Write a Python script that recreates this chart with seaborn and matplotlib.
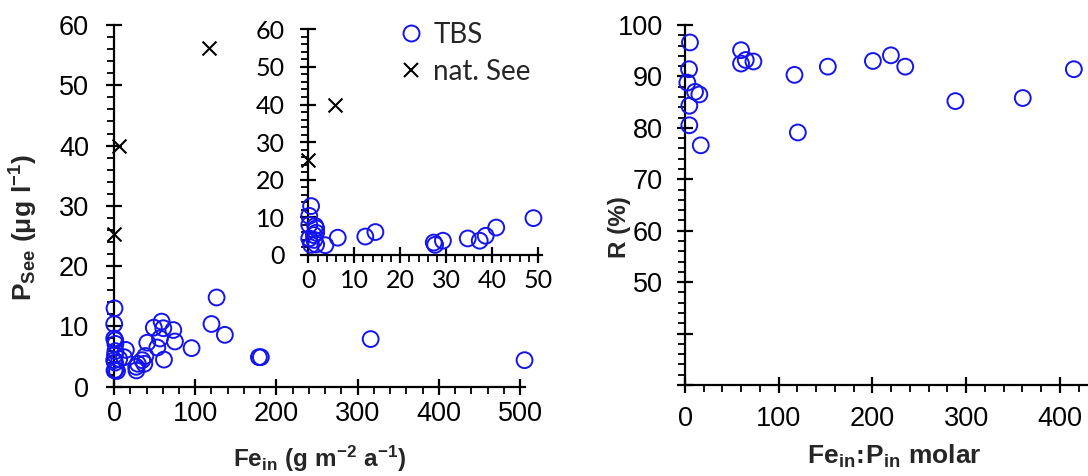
import numpy as np
import pandas as pd
import matplotlib
matplotlib.use("Agg")
import matplotlib.pyplot as plt
from matplotlib.lines import Line2D
from matplotlib.ticker import MultipleLocator, FixedLocator, FixedFormatter
import seaborn as sns

# ---------------- data ----------------
tbs_fe = [0.6, 0.2, 0.2, 1.5, 1.7, 1.7, 1.2, 0.2, 1.3, 0.6, 1.7, 3.7, 6.4,
          12.4, 14.6, 27.3, 27.6, 29.3, 34.7, 37.3, 38.6, 40.9, 49.0,
          53.3, 56.6, 58.6, 60.7, 61.5, 73.0, 75.0, 95.5, 120.0, 126.3,
          136.5, 178.4, 180.8, 316.0, 505.5]
tbs_p = [13.0, 10.4, 8.0, 7.7, 7.1, 5.9, 5.3, 4.4, 4.0, 2.7, 2.8, 2.6, 4.6,
         4.9, 6.1, 3.3, 2.7, 3.8, 4.4, 3.8, 5.1, 7.3, 9.8,
         6.5, 8.0, 10.8, 9.7, 4.5, 9.4, 7.5, 6.4, 10.4, 14.8,
         8.6, 4.9, 4.9, 7.9, 4.4]
see_fe = [0.0, 5.8, 117.2]
see_p = [25.3, 40.0, 56.2]

ratio_fep = [5.3, 4.3, 2.5, 10.7, 15.3, 4.6, 4.6, 16.8, 59.8, 59.8, 64.8, 73.0,
             116.8, 120.4, 152.4, 200.5, 219.7, 235.0, 288.5, 360.4, 414.9]
removal_r = [96.6, 91.4, 88.8, 87.0, 86.5, 84.3, 80.5, 76.6, 95.1, 92.5, 93.2, 92.9,
             90.3, 79.1, 91.9, 93.0, 94.1, 91.9, 85.2, 85.8, 91.4]

tbs_df = pd.DataFrame({"Fe": tbs_fe, "P": tbs_p})
see_df = pd.DataFrame({"Fe": see_fe, "P": see_p})
r_df = pd.DataFrame({"ratio": ratio_fep, "R": removal_r})

# ---------------- style ----------------
sns.set_theme(style="white")
plt.rcParams["font.family"] = ["Liberation Sans", "DejaVu Sans"]
plt.rcParams["mathtext.fontset"] = "custom"
plt.rcParams["mathtext.rm"] = "Liberation Sans:bold"
plt.rcParams["mathtext.it"] = "Liberation Sans:bold"
plt.rcParams["mathtext.bf"] = "Liberation Sans:bold"
plt.rcParams["mathtext.sf"] = "Liberation Sans:bold"

BLUE = "#1414F0"
TICK_FS = 19.5
INSET_FS = 18
LABEL_FS = 17.5

fig = plt.figure(figsize=(10.88, 4.76), dpi=100)
ax1 = fig.add_axes([0.1048, 0.1876, 0.3777, 0.7599])
ax_in = fig.add_axes([0.2834, 0.4643, 0.2145, 0.4742])
ax2 = fig.add_axes([0.6296, 0.1912, 0.3704, 0.7563])


def style_axis(ax, fs, xpad, ypad, family=None):
    for s in ["top", "right"]:
        ax.spines[s].set_visible(False)
    for s in ["left", "bottom"]:
        ax.spines[s].set_linewidth(1.6)
        ax.spines[s].set_color("black")
    ax.tick_params(which="major", direction="inout", length=12, width=1.6,
                   labelsize=fs, colors="black")
    ax.tick_params(which="minor", direction="out", length=5, width=1.3, colors="black")
    ax.tick_params(axis="x", which="major", pad=xpad)
    ax.tick_params(axis="y", which="major", pad=ypad)
    ax.tick_params(axis="both", which="both", bottom=True, left=True)
    if family:
        for lab in ax.get_xticklabels() + ax.get_yticklabels():
            lab.set_family(family)
    ax.set_facecolor("none")


circle_kw = dict(marker="o", s=130, facecolors="none", edgecolor=BLUE,
                 linewidth=1.4, clip_on=False, zorder=5)
cross_kw = dict(marker="x", s=100, color="black", linewidth=1.5, clip_on=False, zorder=5)

# ---- left main axes ----
sns.scatterplot(data=tbs_df, x="Fe", y="P", ax=ax1, **circle_kw)
sns.scatterplot(data=see_df, x="Fe", y="P", ax=ax1, **cross_kw)
ax1.set_xlim(0, 506)
ax1.set_ylim(0, 60)
ax1.xaxis.set_major_locator(MultipleLocator(100))
ax1.xaxis.set_minor_locator(MultipleLocator(20))
ax1.yaxis.set_major_locator(MultipleLocator(10))
ax1.yaxis.set_minor_locator(MultipleLocator(2))
style_axis(ax1, TICK_FS, xpad=4, ypad=12)
ax1.set_xlabel(r"$\mathbf{Fe_{in}\ (g\ m^{-2}\ a^{-1})}$", fontsize=LABEL_FS)
ax1.set_ylabel(r"$\mathbf{P_{See}\ (\mu g\ l^{-1})}$", fontsize=19)
ax1.xaxis.set_label_coords(0.5, -0.158)
ax1.yaxis.set_label_coords(-0.18, 0.44)

# ---- inset ----
sns.scatterplot(data=tbs_df[tbs_df["Fe"] <= 50], x="Fe", y="P", ax=ax_in, **circle_kw)
sns.scatterplot(data=see_df[see_df["Fe"] <= 50], x="Fe", y="P", ax=ax_in, **cross_kw)
ax_in.set_xlim(0, 50.8)
ax_in.set_ylim(0, 60)
ax_in.xaxis.set_major_locator(MultipleLocator(10))
ax_in.xaxis.set_minor_locator(MultipleLocator(2))
ax_in.yaxis.set_major_locator(MultipleLocator(10))
ax_in.yaxis.set_minor_locator(MultipleLocator(2))
style_axis(ax_in, INSET_FS, xpad=4, ypad=11, family=["Lato", "DejaVu Sans"])
ax_in.set_xlabel("")
ax_in.set_ylabel("")

# ---- right axes ----
sns.scatterplot(data=r_df, x="ratio", y="R", ax=ax2, **circle_kw)
ax2.set_xlim(0, 430)
ax2.set_ylim(30, 100)
ax2.xaxis.set_major_locator(MultipleLocator(100))
ax2.xaxis.set_minor_locator(MultipleLocator(20))
yt = [30, 40, 50, 60, 70, 80, 90, 100]
ax2.yaxis.set_major_locator(FixedLocator(yt))
ax2.yaxis.set_major_formatter(FixedFormatter(["", "", "50", "60", "70", "80", "90", "100"]))
ax2.yaxis.set_minor_locator(MultipleLocator(2))
style_axis(ax2, TICK_FS, xpad=9, ypad=10)
ax2.set_xlabel(r"$\mathbf{Fe_{in}\!:\!P_{in}\ molar}$", fontsize=19)
ax2.set_ylabel("R (%)", fontsize=LABEL_FS, fontweight="bold")
ax2.xaxis.set_label_coords(0.519, -0.16)
ax2.yaxis.set_label_coords(-0.135, 0.44)

for ax in (ax1, ax_in, ax2):
    leg = ax.get_legend()
    if leg is not None:
        leg.remove()

# ---- legend ----
handles = [
    Line2D([], [], marker="o", linestyle="none", markersize=11.5, markerfacecolor="none",
           markeredgecolor=BLUE, markeredgewidth=1.4, label="TBS"),
    Line2D([], [], marker="x", linestyle="none", markersize=10, color="black",
           markeredgewidth=1.5, label="nat. See"),
]
fig.legend(handles=handles, loc="upper left", bbox_to_anchor=(0.346, 0.995),
           frameon=False, prop={"family": ["Lato", "DejaVu Sans"], "size": 20},
           handletextpad=0.25, labelspacing=0.4, handlelength=1.1, borderpad=0.2)

fig.savefig("out.png", dpi=100)
